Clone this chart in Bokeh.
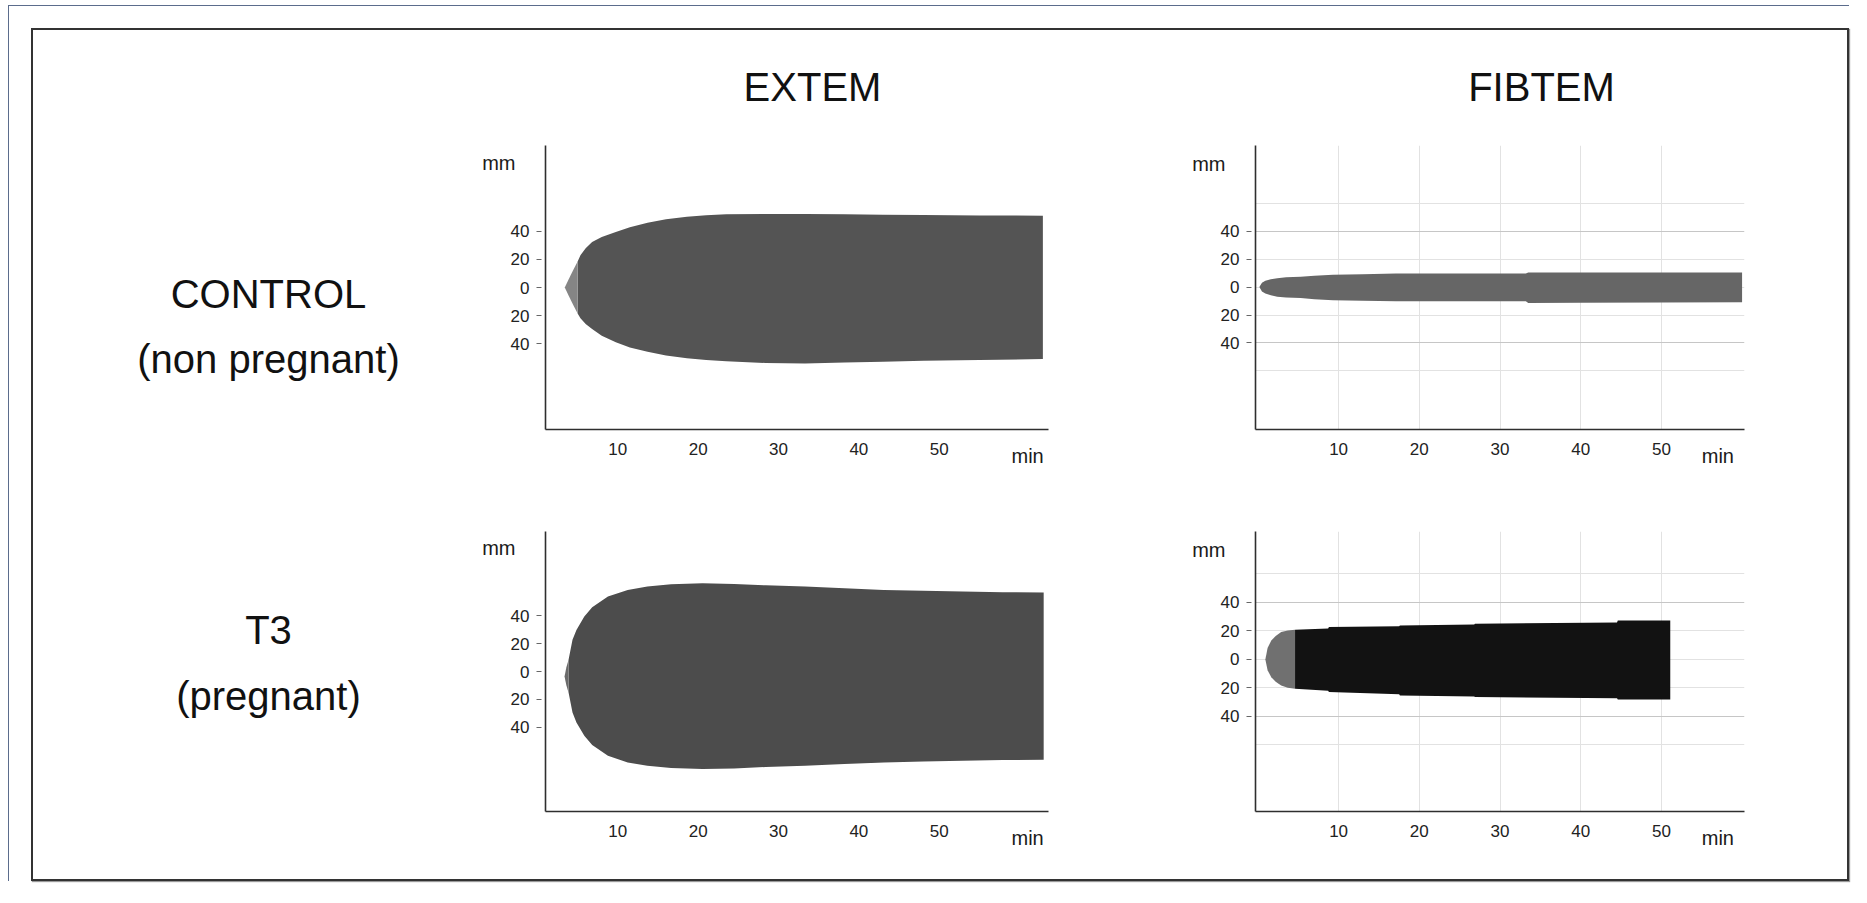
from bokeh.plotting import figure
from bokeh.models import FixedTicker, Range1d, Grid, LinearAxis
from bokeh.layouts import row, column
from bokeh.core.properties import value
from bokeh.embed import file_html
from bokeh.resources import INLINE

FONT = "Liberation Sans"

# ---------------- data (time in min, amplitude in mm) ----------------
col_titles = ["EXTEM", "FIBTEM"]
row_titles = ["CONTROL", "(non pregnant)", "T3", "(pregnant)"]
x_ticks = [10, 20, 30, 40, 50]
y_ticks = [-40, -20, 0, 20, 40]
y_tick_labels = {-40: "40", -20: "20", 0: "0", 20: "20", 40: "40"}
fib_grid_y = [-60, -20, 0, 20, 60]
fib_grid_y_dark = [-40, 40]
y_unit = "mm"
x_unit = "min"

# EXTEM control
ext_c_tip_t = [3.4, 3.9, 4.5, 5.0]
ext_c_tip_up = [0, 6, 13, 18.5]
ext_c_tip_lo = [0, -6, -13, -18.5]
ext_c_t = [5.0, 5.35, 6.0, 6.8, 8.0, 9.75, 11.5, 13.7, 16.0, 18.6, 21.0, 23.5, 28.4, 33.3, 38.2, 43.0, 48.0, 55.0, 62.9]
ext_c_up = [18.5, 23, 28, 32.5, 36, 39.6, 43, 46.3, 48.8, 50.6, 51.6, 52.3, 52.5, 52.5, 52.3, 52.0, 51.8, 51.5, 51.3]
ext_c_lo = [-18.5, -22, -26, -29.6, -34.5, -39.1, -42.8, -45.8, -48.5, -50.6, -51.8, -52.7, -53.9, -54.2, -53.5, -53.0, -52.3, -51.7, -51.1]

# EXTEM T3
ext_t_tip_t = [3.37, 3.6, 3.87]
ext_t_tip_up = [-3.6, 3, 8.4]
ext_t_tip_lo = [-3.6, -10, -15.1]
ext_t_t = [3.87, 4.36, 4.85, 5.83, 6.81, 8.77, 11.23, 13.68, 16.63, 20.55, 24.48, 28.4, 33.3, 38.2, 43.1, 48.0, 52.9, 57.9, 63.0]
ext_t_up = [8.4, 22.8, 29.9, 39.5, 46.2, 53.9, 58.7, 61.1, 62.8, 63.5, 63.0, 62.0, 61.1, 59.9, 58.7, 58.0, 57.5, 57.0, 56.8]
ext_t_lo = [-15.1, -29.5, -36.6, -46.2, -52.9, -60.6, -65.4, -67.8, -69.5, -70.2, -69.7, -68.7, -67.8, -66.6, -65.4, -64.7, -64.2, -63.7, -63.5]

# FIBTEM control
fib_c_t = [0.18, 0.5, 0.92, 1.6, 2.4, 3.5, 5.3, 7.0, 9.3, 13, 17.1, 25, 33.2, 33.5, 40, 50, 60.0]
fib_c_up = [0, 3.0, 4.4, 5.5, 6.3, 6.9, 7.3, 8.0, 8.7, 9.2, 9.7, 9.7, 9.7, 10.4, 10.4, 10.4, 10.4]
fib_c_lo = [0, -3.2, -4.6, -5.9, -7.0, -7.5, -7.8, -8.7, -9.5, -9.9, -10.2, -10.2, -10.2, -11.4, -11.2, -11.0, -10.9]

# FIBTEM T3
fib_t_tip_t = [0.92, 1.2, 1.66, 2.2, 2.88, 3.7, 4.6]
fib_t_tip_up = [0, 8, 13.3, 16.5, 19.2, 20.3, 20.8]
fib_t_tip_lo = [0, -7.5, -12.4, -15.6, -18.2, -19.8, -20.6]
fib_t_t = [4.6, 8.7, 8.8, 17.5, 17.6, 26.8, 26.9, 44.5, 44.6, 51.1]
fib_t_up = [20.8, 21.8, 22.7, 23.3, 23.9, 24.5, 25.0, 26.0, 27.4, 27.4]
fib_t_lo = [-20.6, -22.0, -22.9, -24.5, -25.3, -26.0, -26.4, -27.3, -28.1, -28.1]


def blank(width, height):
    p = figure(width=width, height=height, x_range=Range1d(0, width), y_range=Range1d(0, height),
               x_axis_location=None, y_axis_location=None, min_border=0,
               output_backend="svg", toolbar_location=None)
    p.outline_line_color = None
    p.grid.visible = False
    p.background_fill_color = "white"
    p.border_fill_color = "white"
    return p


def panel(width, height, xr, yr, bl, br, bt, bb, grid, mm_at, min_at):
    p = figure(width=width, height=height, x_range=Range1d(*xr), y_range=Range1d(*yr),
               output_backend="svg", toolbar_location=None,
               min_border_left=bl, min_border_right=br, min_border_top=bt, min_border_bottom=bb)
    p.outline_line_color = None
    p.background_fill_color = "white"
    p.border_fill_color = "white"
    for ax in (p.xaxis, p.yaxis):
        ax.axis_line_color = "#2e2e2e"
        ax.axis_line_width = 1.6
        ax.minor_tick_line_color = None
        ax.major_label_text_font = FONT
        ax.major_label_text_color = "#222222"
        ax.major_label_text_font_size = "17px"
    p.xaxis.ticker = FixedTicker(ticks=x_ticks)
    p.xaxis.major_tick_out = 0
    p.xaxis.major_tick_in = 0
    p.xaxis.major_label_standoff = 13
    p.yaxis.ticker = FixedTicker(ticks=y_ticks)
    p.yaxis.major_label_overrides = y_tick_labels
    p.yaxis.major_tick_out = 9
    p.yaxis.major_tick_in = -4
    p.yaxis.major_tick_line_color = "#666666"
    p.yaxis.major_label_standoff = 7
    if grid:
        p.xgrid.ticker = FixedTicker(ticks=x_ticks)
        p.ygrid.ticker = FixedTicker(ticks=fib_grid_y)
        p.grid.grid_line_color = "#e2e2e2"
        p.grid.grid_line_width = 1
        p.add_layout(Grid(dimension=1, ticker=FixedTicker(ticks=fib_grid_y_dark),
                          grid_line_color="#c6c6c6", grid_line_width=1))
    else:
        p.grid.visible = False
    # unit labels as extra axes ("mm" left of the y axis top, "min" under the x axis end)
    ya = LinearAxis(ticker=FixedTicker(ticks=[mm_at]), major_label_overrides={mm_at: y_unit},
                    axis_line_color=None, major_tick_line_color=None, minor_tick_line_color=None,
                    major_label_standoff=-14, major_label_text_font=FONT,
                    major_label_text_font_size="20px", major_label_text_color="#1a1a1a")
    p.add_layout(ya, "left")
    xa = LinearAxis(ticker=FixedTicker(ticks=[min_at]), major_label_overrides={min_at: x_unit},
                    axis_line_color=None, major_tick_line_color=None, minor_tick_line_color=None,
                    major_label_standoff=-19, major_label_text_font=FONT,
                    major_label_text_font_size="20px", major_label_text_color="#1a1a1a")
    p.add_layout(xa, "below")
    return p


EXT_X = (1.0, 63.6)
FIB_X = (-0.3, 60.3)

header = blank(1814, 95)
left = blank(407, 754)

pA = panel(660, 355, EXT_X, (-101.4, 101.4), 105, 52, 20, 51, False, 89, 61)
pB = panel(747, 355, FIB_X, (-101.8, 101.1), 155, 103, 20, 51, True, 88, 57)
pC = panel(660, 399, EXT_X, (-100.7, 100.7), 105, 52, 51, 68, False, 89, 61)
pD = panel(747, 399, FIB_X, (-106.7, 89.8), 155, 103, 51, 68, True, 77, 57)

# EXTEM control
pA.varea(x=ext_c_t, y1=ext_c_lo, y2=ext_c_up, fill_color="#545454")
pA.varea(x=ext_c_tip_t, y1=ext_c_tip_lo, y2=ext_c_tip_up, fill_color="#858585")
# EXTEM T3
pC.varea(x=ext_t_t, y1=ext_t_lo, y2=ext_t_up, fill_color="#4c4c4c")
pC.varea(x=ext_t_tip_t, y1=ext_t_tip_lo, y2=ext_t_tip_up, fill_color="#6a6a6a")
# FIBTEM control
pB.varea(x=fib_c_t, y1=fib_c_lo, y2=fib_c_up, fill_color="#666666")
# FIBTEM T3
pD.varea(x=fib_t_tip_t, y1=fib_t_tip_lo, y2=fib_t_tip_up, fill_color="#707070")
pD.varea(x=fib_t_t, y1=fib_t_lo, y2=fib_t_up, fill_color="#121212")

# column headers (header canvas: x = page_x - 33, y = 125 - page_y)
header.text(x=[779, 1508], y=[39, 39], text=col_titles, text_font=value(FONT),
            text_font_size=value("40px"), text_align="center", text_baseline="middle",
            text_color="#111111")
# row headers (left canvas: x = page_x - 33, y = 879 - page_y)
left.text(x=[235, 235, 235, 235], y=[586, 521, 250, 184], text=row_titles, text_font=value(FONT),
          text_font_size=value("40px"), text_align="center", text_baseline="middle",
          text_color="#111111")

panels = column(row(pA, pB), row(pC, pD))
inner = column(header, row(left, panels),
               styles={"border": "2px solid #333333", "box-shadow": "1px 1px 1px #9a9a9a"})
outer = column(inner, styles={"border-top": "1px solid #5b6c8c", "border-left": "1px solid #5b6c8c",
                              "margin-left": "8px", "margin-top": "5px",
                              "padding-left": "22px", "padding-top": "22px"})

open("out.html", "w").write(file_html(outer, INLINE))
